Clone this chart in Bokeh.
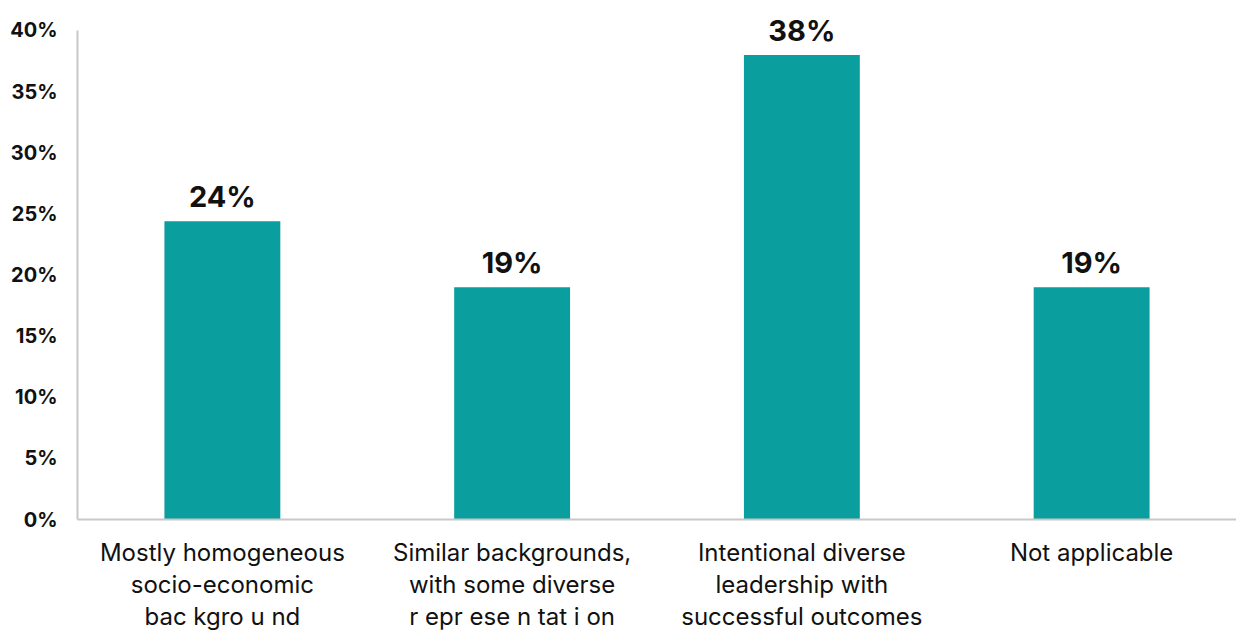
from bokeh.plotting import figure
from bokeh.models import ColumnDataSource, FactorRange, NumeralTickFormatter, FixedTicker
from bokeh.core.properties import value
from bokeh.embed import file_html
from bokeh.resources import INLINE

categories = [
    "Mostly homogeneous\nsocio-economic\nbac kgro u nd",
    "Similar backgrounds,\nwith some diverse\nr epr ese n tat i on",
    "Intentional diverse\nleadership with\nsuccessful outcomes",
    "Not applicable",
]
shares = [24.4, 19.0, 38.0, 19.0]
y_ticks = [0, 5, 10, 15, 20, 25, 30, 35, 40]

FONT = "Inter"
TEAL = "#0a9e9e"

labels = [f"{round(v)}%" for v in shares]
src = ColumnDataSource(dict(cat=categories, val=shares, lab=labels))

# extra headroom above 40% so the tallest value label fits inside the frame
p = figure(
    x_range=FactorRange(*categories, range_padding=0.0),
    y_range=(0, 42.45),
    width=1236, height=635,
    output_backend="svg", toolbar_location=None,
    min_border_left=77, min_border_right=0,
    min_border_top=0, min_border_bottom=116,
)
p.outline_line_color = None
p.xgrid.grid_line_color = None
p.ygrid.grid_line_color = None
p.x_range.factor_padding = 0.0

p.vbar(x="cat", top="val", width=0.4, source=src, fill_color=TEAL, line_color=None)
p.text(x="cat", y="val", text="lab", source=src,
       text_font=value(FONT), text_font_style="bold", text_font_size="29px",
       text_align="center", text_baseline="bottom", y_offset=-7, text_color="#111111")

# value axis
p.yaxis.bounds = (0, 40)
p.yaxis.ticker = FixedTicker(ticks=[t for t in y_ticks])
p.yaxis.formatter = NumeralTickFormatter(format="0")
p.yaxis.major_label_overrides = {t: f"{t}%" for t in y_ticks}
p.yaxis.major_label_text_font = FONT
p.yaxis.major_label_text_font_style = "bold"
p.yaxis.major_label_text_font_size = "20px"
p.yaxis.major_label_text_color = "#111111"
p.yaxis.major_tick_line_color = None
p.yaxis.minor_tick_line_color = None
p.yaxis.axis_line_color = "#c8c8c8"
p.yaxis.axis_line_width = 2
p.yaxis.major_label_standoff = 14

# category axis
p.xaxis.major_label_text_font = FONT
p.xaxis.major_label_text_font_size = "24px"
p.xaxis.major_label_text_color = "#111111"
p.xaxis.major_label_text_line_height = 1.12
p.xaxis.major_tick_line_color = None
p.xaxis.minor_tick_line_color = None
p.xaxis.axis_line_color = "#c8c8c8"
p.xaxis.axis_line_width = 2
p.xaxis.major_label_standoff = 12
p.xaxis.major_label_orientation = "horizontal"

open("out.html", "w").write(file_html(p, INLINE))
